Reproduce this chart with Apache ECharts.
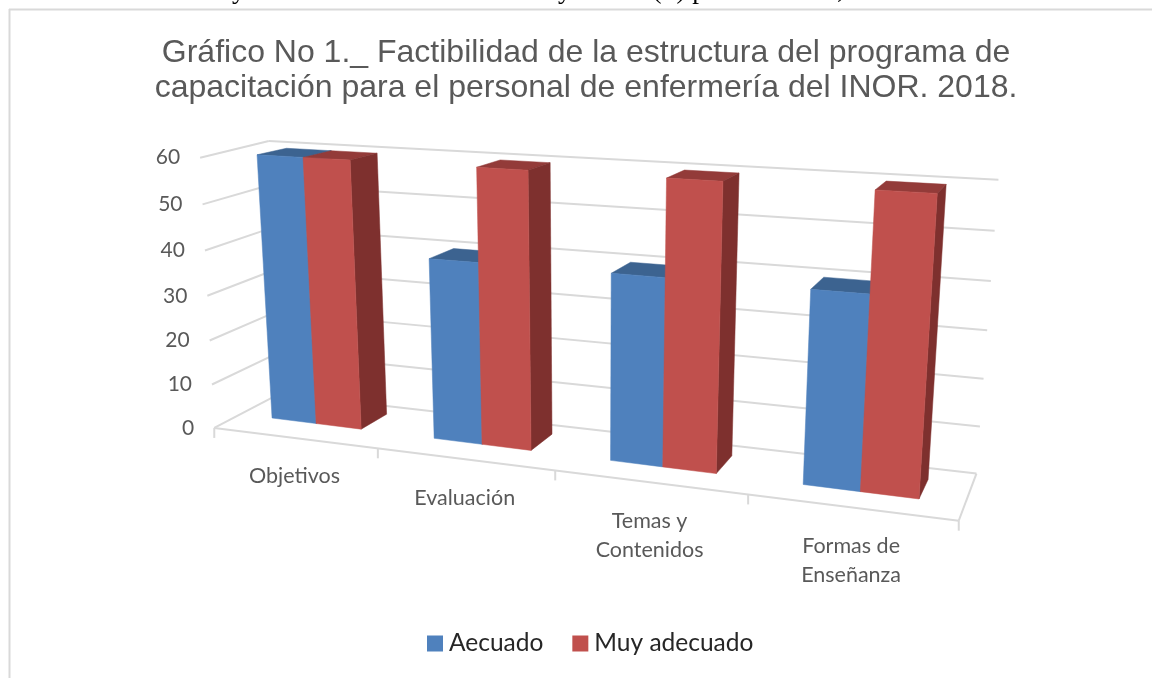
<!DOCTYPE html>
<html><head><meta charset="utf-8">
<style>html,body{margin:0;padding:0;background:#fff}#c{width:1152px;height:678px}</style>
<script src="https://cdn.jsdelivr.net/npm/echarts@6/dist/echarts.min.js"></script>
</head><body><div id="c"></div>
<script>
const categories = ['Objetivos','Evaluación','Temas y\nContenidos','Formas de\nEnseñanza'];
const aecuado = [60,40,40,40];
const muyAdecuado = [60,60,60,60];
const valueTicks = [0,10,20,30,40,50,60];
const titleText = 'Gráfico No 1._ Factibilidad de la estructura del programa de\ncapacitación para el personal de enfermería del INOR. 2018.';
const clippedLine = 'a la alternativa con muy adecuado del 1 al 5 de los 4 y   uno   (S) por adecuado, en de la Moda a la media';

// Camera calibration: box position (u across, v up, w depth) -> picture pixel
const boxAnchors = [[0,0,0,217,426],[0,1,0,197,158],[0,1,1,272,141],[1,1,1,998,180]];
const boxCalib = [
 [1,0,0,959,521],[1,0,1,977,471],[0,0,1,270,397],
 ...boxAnchors,...boxAnchors,...boxAnchors,
 [.25,0,0,380,450],[.5,0,0,555,472],[.75,0,0,747,497],
 [1,.5,1,988,329],[0,.5,0,207,295]
];
const barCalib = [
 [.055,0,.33,272,418],[.195,0,.33,362,429],[.195,0,.9,387,414],[.055,1,.33,256,155],[.195,1,.33,351,160],[.195,1,.9,377,153],
 [.305,0,.33,433,438],[.445,0,.33,532,451],[.445,0,.9,552,434],[.445,1,.33,529,170],[.445,1,.9,550,163],
 [.555,0,.33,609,461],[.695,0,.33,717,473],[.695,0,.9,732,456],[.695,1,.33,723,182],[.695,1,.9,739,173],
 [.805,0,.33,802,484],[.945,0,.33,920,499],[.945,0,.9,928,480],[.945,1,.33,937,193],[.945,1,.9,946,184]
];
function solveCamera(pts){
  const A=[],b=[];
  pts.forEach(([u,v,w,x,y])=>{
    A.push([u,v,w,1,0,0,0,0,-x*u,-x*v,-x*w]);b.push(x);
    A.push([0,0,0,0,u,v,w,1,-y*u,-y*v,-y*w]);b.push(y);
  });
  const n=11,M=[];
  for(let i=0;i<n;i++){const r=[];for(let j=0;j<n;j++){let s=0;A.forEach(a=>s+=a[i]*a[j]);r.push(s);}
    let s=0;A.forEach((a,k)=>s+=a[i]*b[k]);r.push(s);M.push(r);}
  for(let i=0;i<n;i++){let p=i;for(let k=i+1;k<n;k++)if(Math.abs(M[k][i])>Math.abs(M[p][i]))p=k;
    [M[i],M[p]]=[M[p],M[i]];
    for(let k=0;k<n;k++){if(k===i)continue;const f=M[k][i]/M[i][i];for(let j=i;j<=n;j++)M[k][j]-=f*M[i][j];}}
  return M.map((r,i)=>r[n]/r[i]);
}
const camera=P=>(u,v,w)=>{
  const d=P[8]*u+P[9]*v+P[10]*w+1;
  return [(P[0]*u+P[1]*v+P[2]*w+P[3])/d,(P[4]*u+P[5]*v+P[6]*w+P[7])/d];
};
const proj=camera(solveCamera(boxCalib));
const projBar=camera(solveCamera(barCalib));
const barFrac=0.56,w0=0.33,w1=0.9;
function norm(api,params,cat,val){
  const cs=params.coordSys, pt=api.coord([cat,val]);
  return {v:(cs.y+cs.height-pt[1])/cs.height, band:api.size([1,0])[0]/cs.width, uc:(pt[0]-cs.x)/cs.width};
}
function barRenderer(idx,front,top,side){
  return function(params,api){
    const n=norm(api,params,api.value(0),api.value(1));
    const bw=n.band*barFrac/2, u0=n.uc-n.band*barFrac/2+idx*bw, u1=u0+bw, v=n.v;
    const poly=(pts,fill)=>({type:'polygon',shape:{points:pts},style:{fill,stroke:fill,lineWidth:.5}});
    const p=projBar;
    return {type:'group',children:[
      poly([p(u0,v,w0),p(u1,v,w0),p(u1,v,w1),p(u0,v,w1)],top),
      poly([p(u1,0,w0),p(u1,v,w0),p(u1,v,w1),p(u1,0,w1)],side),
      poly([p(u0,0,w0),p(u1,0,w0),p(u1,v,w0),p(u0,v,w0)],front)
    ]};
  };
}
const grey='#d9d9d9';
const line=(a,b)=>({type:'line',shape:{x1:a[0],y1:a[1],x2:b[0],y2:b[1]},style:{stroke:grey,lineWidth:2}});
function gridRenderer(params,api){
  const n=norm(api,params,0,api.value(0)), v=n.v, e=proj(0,v,0);
  const ch=[line(e,proj(0,v,1)),line(proj(0,v,1),proj(1,v,1)),
    {type:'text',x:e[0]-20,y:e[1],style:{text:String(api.value(0)),fill:'#595959',font:'21px Lato',textAlign:'right',textVerticalAlign:'middle'}}];
  if(v===0){
    ch.push(line(e,proj(1,0,0)),line(proj(1,0,0),proj(1,0,1)));
    for(let i=0;i<=4;i++){const t=proj(i/4,0,0);ch.push(line(t,[t[0],t[1]+10]));}
  }
  return {type:'group',children:ch};
}
function catLabelRenderer(params,api){
  const n=norm(api,params,api.value(0),0), p=proj(n.uc,0,0);
  return {type:'text',x:p[0],y:p[1]+24,style:{text:categories[api.value(0)],fill:'#595959',font:'21.5px Lato',lineHeight:29,textAlign:'center',textVerticalAlign:'top'}};
}
const chart=echarts.init(document.getElementById('c'),null,{renderer:'canvas'});
chart.setOption({
  animation:false,
  backgroundColor:'#fff',
  title:{text:titleText,left:581,top:31,textAlign:'center',
    textStyle:{fontFamily:'Liberation Sans',fontSize:32,fontWeight:'normal',color:'#595959',lineHeight:35}},
  legend:{data:['Aecuado','Muy adecuado'],left:422,top:626,icon:'rect',itemWidth:16,itemHeight:16,itemGap:29,
    textStyle:{fontFamily:'Lato',fontSize:24.5,color:'#262626',padding:[0,0,0,1]},selectedMode:false},
  grid:{left:100,top:100,width:800,height:400},
  xAxis:{type:'category',data:categories,show:false},
  yAxis:{type:'value',min:0,max:60,interval:10,show:false},
  graphic:[
    {type:'text',z:1,x:-14,y:-23,style:{text:clippedLine,fill:'#000',font:'27px "Liberation Serif"'}},
    {type:'line',shape:{x1:9,y1:9.5,x2:1152,y2:9.5},style:{stroke:'#d9d9d9',lineWidth:2},z:1},
    {type:'line',shape:{x1:9.5,y1:9,x2:9.5,y2:678},style:{stroke:'#d9d9d9',lineWidth:2},z:1}
  ],
  series:[
    {type:'custom',name:'grid',silent:true,clip:false,renderItem:gridRenderer,data:valueTicks.map(t=>[t]),encode:{y:0},z:2},
    {type:'custom',name:'labels',silent:true,clip:false,renderItem:catLabelRenderer,data:categories.map((c,i)=>[i]),encode:{x:0},z:2},
    {type:'custom',name:'Aecuado',clip:false,renderItem:barRenderer(0,'#4F81BD','#3C6390','#3C6390'),itemStyle:{color:'#4F81BD'},
      data:aecuado.map((v,i)=>[i,v]),encode:{x:0,y:1},z:3},
    {type:'custom',name:'Muy adecuado',clip:false,renderItem:barRenderer(1,'#C0504D','#933B39','#7E302E'),itemStyle:{color:'#C0504D'},
      data:muyAdecuado.map((v,i)=>[i,v]),encode:{x:0,y:1},z:4}
  ]
});
</script></body></html>
